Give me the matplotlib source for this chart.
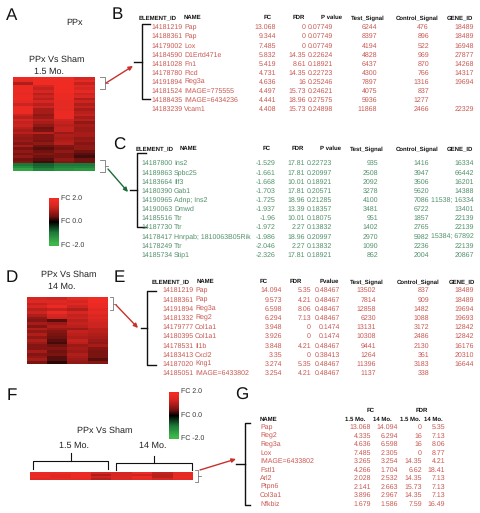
import matplotlib
matplotlib.use("Agg")
import matplotlib.pyplot as plt
from matplotlib.colors import LinearSegmentedColormap
import numpy as np

plt.rcParams['font.family'] = ['Liberation Sans', 'DejaVu Sans']
plt.rcParams['text.hinting'] = 'no_hinting'
plt.rcParams['text.hinting_factor'] = 1

W, H = 481, 513
FS = 4.7
FSB = 4.5

# ---------- table data ----------
b_headers = ["ELEMENT_ID", "NAME", "FC", "FDR", "P value", "Test_Signal", "Control_Signal", "GENE_ID"]
b_ids = ["14181219","14188361","14179002","14184590","14181028","14178780","14191894","14181524","14188435","14183239"]
b_names = ["Pap","Pap","Lox","D1Ertd471e","Fn1","Ftcd","Reg3a","IMAGE=775555","IMAGE=6434236","Vcam1"]
b_fc = ["13.068","9.344","7.485","5.832","5.419","4.731","4.636","4.497","4.441","4.408"]
b_fdr = ["0","0","0","14.35","8.61","14.35","16","15.73","18.96","15.73"]
b_p = ["0.07749","0.07749","0.07749","0.22624","0.18921","0.22723","0.25246","0.24621","0.27575","0.24898"]
b_test = ["6244","8397","4194","4828","6437","4300","7897","4075","5936","11868"]
b_ctrl = ["476","896","522","969","870","766","1316","837","1277","2466"]
b_gene = ["18489","18489","16948","27877","14268","14317","19694","","","22329"]

c_headers = b_headers
c_ids = ["14187800","14189863","14183664","14180390","14190965","14190063","14185516","14187730","14178417","14178249","14185734"]
c_names = ["Ins2","Spbc25","Ilf3","Gab1","Adnp; Ins2","Dmwd","Ttr","Ttr","Hnrpab; 1810063B05Rik","Ttr","Stip1"]
c_fc = ["-1.529","-1.661","-1.668","-1.703","-1.725","-1.937","-1.96","-1.972","-1.986","-2.046","-2.326"]
c_fdr = ["17.81","17.81","10.01","17.81","18.96","13.39","10.01","2.27","18.96","2.27","17.81"]
c_p = ["0.22723","0.20997","0.18921","0.20571","0.21285","0.18357","0.18075","0.13832","0.20997","0.13832","0.18921"]
c_test = ["935","2508","2092","3278","4100","3481","951","1402","2970","1090","862"]
c_ctrl = ["1416","3947","3506","5620","7086","6722","1857","2765","5982","2236","2004"]
c_gene = ["16334","66442","16201","14388","11538; 16334","13401","22139","22139","15384; 67892","22139","20867"]

e_headers = ["ELEMENT_ID", "NAME", "FC", "FDR", "Pvalue", "Test_Signal", "Control_Signal", "GENE_ID"]
e_ids = ["14181219","14188361","14191894","14181332","14179777","14180395","14178531","14183413","14187020","14185051"]
e_names = ["Pap","Pap","Reg3a","Reg2","Col1a1","Col1a1","Il1b","Cxcl2","Kng1","IMAGE=6433802"]
e_fc = ["14.094","9.573","6.598","6.294","3.948","3.926","3.848","3.35","3.274","3.254"]
e_fdr = ["5.35","4.21","8.06","7.13","0","0","4.21","0","5.35","4.21"]
e_p = ["0.48467","0.48467","0.48467","0.48467","0.1474","0.1474","0.48467","0.38413","0.48467","0.48467"]
e_test = ["13502","7814","12858","6230","13131","10308","9441","1264","11396","1137"]
e_ctrl = ["837","909","1482","1088","3172","2486","2130","361","3183","338"]
e_gene = ["18489","18489","19694","19693","12842","12842","16176","20310","16644",""]

g_names = ["Pap","Reg2","Reg3a","Lox","IMAGE=6433802","Fstl1","Arl2","Ptpn6","Col3a1","Nfkbiz"]
g_fc1 = ["13.068","4.335","4.636","7.485","3.265","4.266","2.028","2.141","3.896","1.679"]
g_fc2 = ["14.094","6.294","6.598","2.305","3.254","1.704","2.532","2.663","2.967","1.586"]
g_fdr1 = ["0","16","16","0","14.35","6.62","14.35","15.73","14.35","7.59"]
g_fdr2 = ["5.35","7.13","8.06","8.77","4.21","18.41","7.13","7.13","7.13","16.49"]

# ---------- heatmap values (fold change, log scale, clipped at +/-2) ----------
heat_a = [
 [1.9,2.0,2.0,1.5],[1.8,2.0,2.0,1.8],[1.1,2.0,2.0,1.3],[1.9,1.5,2.0,1.7],[1.9,1.3,2.0,1.5],
 [1.9,1.5,2.0,1.8],[1.8,1.2,1.9,1.4],[1.9,1.4,1.9,1.6],[1.9,1.2,1.9,1.1],[1.8,1.5,1.8,1.4],
 [1.4,1.2,1.8,1.1],[1.9,1.4,1.8,1.3],[1.9,1.0,1.8,1.0],[1.9,1.0,1.9,1.2],[1.4,0.8,1.9,1.3],
 [1.2,0.9,1.9,1.0],[1.5,1.2,1.4,1.2],[1.3,1.0,1.3,0.8],[1.4,0.8,1.2,1.0],[1.2,0.5,1.3,0.9],
 [1.0,0.6,1.3,0.9],[1.2,1.2,0.9,1.0],[0.9,0.7,1.1,1.0],[0.8,0.7,1.0,0.8],[0.9,0.6,1.1,0.9],
 [0.7,0.8,1.2,0.7],[1.0,0.5,0.7,0.8],[0.6,0.4,0.6,0.8],[0.8,0.5,0.8,0.5],[0.6,0.7,0.6,0.4],
 [0.8,0.5,0.6,0.3],[0.5,0.4,0.8,0.5],[0.7,0.3,0.7,0.5],
 [-1.0,-0.8,-1.0,-1.0],[-1.3,-0.9,-1.2,-1.2],[-1.7,-1.2,-1.4,-1.5],
]
heat_d = [
 [1.5,1.4,1.8,2.0],[1.7,1.7,1.5,2.0],[1.3,1.5,1.7,1.9],[1.5,1.9,1.4,1.9],[1.2,1.3,1.1,1.7],
 [1.4,1.9,1.5,1.8],[1.1,1.5,1.3,1.6],[0.8,1.4,1.4,1.7],[0.7,0.4,1.2,1.5],[1.0,0.9,1.3,1.4],
 [0.7,1.1,1.2,1.4],[1.1,0.9,0.9,1.2],[0.8,0.7,1.3,1.2],[1.1,0.6,1.2,1.1],[0.8,0.5,1.1,1.0],
 [1.1,0.4,1.3,0.9],[0.9,0.3,1.2,0.8],[0.7,0.5,0.9,1.0],[0.7,0.7,1.0,0.7],[1.0,0.5,0.9,0.6],
 [0.7,0.6,1.1,0.6],[0.8,0.4,1.0,0.6],[1.0,0.4,0.9,0.4],[0.6,0.2,0.8,0.7],
]
heat_f = [
 [1.9,1.9,1.9,1.5,1.5,1.9,1.3,1.8],
 [1.8,1.7,1.9,1.1,1.5,1.4,1.2,1.8],
 [1.9,1.7,1.9,1.4,1.6,1.9,1.2,1.9],
 [1.7,1.8,1.8,1.2,1.6,1.8,1.5,1.8],
]
cbar_levels = [2.0, 1.5, 1.0, 0.5, 0.0, -0.5, -1.0, -1.5, -2.0]

fc_cmap = LinearSegmentedColormap.from_list("fc", [
    (0, "#3fb54a"), (0.25, "#1c7a3a"), (0.5, "#000000"), (0.625, "#6e1210"),
    (0.75, "#a61c19"), (0.875, "#d62622"), (1, "#ef2b24")])

fig = plt.figure(figsize=(W / 100, H / 100), dpi=100, facecolor="white")
bg = fig.add_axes([0, 0, 1, 1])
bg.set_xlim(0, W); bg.set_ylim(H, 0); bg.axis("off")

def T(x, y, s, **kw):
    # y is the visual centre of the digits: place on a common baseline
    fs = kw.get("fontsize", FS)
    bg.text(x, y + 0.36 * fs * 100 / 72, s, va="baseline", **kw)

def heat(x0, x1, y0, y1, vals):
    ax = fig.add_axes([x0 / W, 1 - y1 / H, (x1 - x0) / W, (y1 - y0) / H])
    ax.imshow(np.array(vals, dtype=float), cmap=fc_cmap, vmin=-2, vmax=2, aspect="auto", interpolation="nearest")
    ax.axis("off")

def cbar(x0, x1, y0, y1, lx, ly):
    ax = fig.add_axes([x0 / W, 1 - y1 / H, (x1 - x0) / W, (y1 - y0) / H])
    ax.imshow(np.array(cbar_levels).reshape(-1, 1), cmap=fc_cmap, vmin=-2, vmax=2, aspect="auto", interpolation="bilinear")
    ax.axis("off")
    for t, y in zip(["FC 2.0", "FC 0.0", "FC -2.0"], ly):
        T(lx, y, t, fontsize=FS, color="#333333", ha="left")

heat(13, 95, 77, 171, heat_a)
heat(27, 108, 297, 364, heat_d)
heat(30, 193, 472, 480, heat_f)
cbar(49, 59, 198, 246, 61, [198, 221, 245])
cbar(169, 179, 392, 439, 181, [391, 415, 438])

for s, x, y in [("A", 6, 14), ("B", 112, 13), ("C", 113, 144), ("D", 6, 276), ("E", 114, 276), ("F", 7, 394), ("G", 235, 394)]:
    T(x, y, s, fontsize=12, color="#111111", ha="left")

for x, y, s in [(75, 22, "PPx"), (57, 59, "PPx Vs Sham"), (49, 71, "1.5 Mo."), (69, 274, "PPx Vs Sham"),
                (62, 286, "14 Mo."), (105, 430, "PPx Vs Sham"), (74, 445, "1.5 Mo."), (153, 445, "14 Mo.")]:
    T(x, y, s, fontsize=6.5, color="#222222", ha="center")

RED = "#c8564f"
GREEN = "#4f8f68"

def table(head, head_x, head_y, rows_y, color, idx, nx, rx, cols):
    for i, (h, x) in enumerate(zip(head, head_x)):
        T(x, head_y, h, fontsize=FSB, fontweight="bold", color="#111111", ha="left" if i < 2 else "center")
    for k, y in enumerate(rows_y):
        T(idx, y, cols[0][k], fontsize=FS, color=color, ha="right")
        T(nx, y, cols[1][k], fontsize=FS, color=color, ha="left")
        for col, x in zip(cols[2:], rx):
            T(x, y, col[k], fontsize=FS, color=color, ha="right")

table(b_headers, [139, 184, 268, 299, 332, 368, 417, 460], 17, [27 + 9.05 * i for i in range(10)], RED, 183, 184,
      [276, 306, 333, 377, 429, 474], [b_ids, b_names, b_fc, b_fdr, b_p, b_test, b_ctrl, b_gene])
table(c_headers, [136, 180, 267, 298, 331, 367, 417, 460], 148, [163 + 9.15 * i for i in range(11)], GREEN, 173, 174,
      [276, 305, 332, 378, 429, 474], [c_ids, c_names, c_fc, c_fdr, c_p, c_test, c_ctrl, c_gene])
table(e_headers, [152, 197, 264, 296, 329, 367, 418, 462], 281, [290 + 9.2 * i for i in range(10)], RED, 194, 195,
      [282, 311, 340, 376, 429, 474], [e_ids, e_names, e_fc, e_fdr, e_p, e_test, e_ctrl, e_gene])

# panel G
T(371, 410, "FC", fontsize=FSB, fontweight="bold", color="#111111", ha="center")
T(422, 410, "FDR", fontsize=FSB, fontweight="bold", color="#111111", ha="center")
T(260, 419, "NAME", fontsize=FSB, fontweight="bold", color="#111111", ha="left")
for x, s in [(355, "1.5 Mo."), (382, "14 Mo."), (410, "1.5 Mo."), (433, "14 Mo.")]:
    T(x, 419, s, fontsize=FSB, fontweight="bold", color="#111111", ha="center")
for k, name in enumerate(g_names):
    y = 427 + 8.5 * k
    T(260, y, name, fontsize=FS, color=RED, ha="left")
    for col, x in zip([g_fc1, g_fc2, g_fdr1, g_fdr2], [371, 398, 422, 445]):
        T(x, y, col[k], fontsize=FS, color=RED, ha="right")

def bracket(x, y0, y1, xtip, xmid, lw=1.0, color="#111111"):
    bg.plot([xtip, x, x, xtip], [y0, y0, y1, y1], color=color, lw=lw, solid_joinstyle="round")
    bg.plot([xmid, x], [(y0 + y1) / 2] * 2, color=color, lw=lw)

bracket(142, 24, 99, 150, 134)
bracket(137, 153, 227, 146, 130)
bracket(147, 291, 365, 156, 141)
bracket(245, 423, 505, 250, 236)

bracket(105, 77, 89, 100, 108, lw=0.6, color="#777777")
bracket(105, 160, 172, 100, 108, lw=0.6, color="#777777")
bracket(113, 297, 310, 110, 116, lw=0.6, color="#777777")
bracket(198, 470, 482, 195, 201, lw=0.6, color="#777777")

for x0, x1, ytop, ybot, xm, ypk in [(33, 108, 461, 469, 71, 453), (116, 192, 463, 470, 154, 456)]:
    bg.plot([x0, x0, x1, x1], [ybot, ytop, ytop, ybot], color="#111111", lw=0.8)
    bg.plot([xm, xm], [ytop, ypk], color="#111111", lw=0.8)

def arrow(x0, y0, x1, y1, color):
    bg.annotate("", xy=(x1, y1), xytext=(x0, y0),
                arrowprops=dict(arrowstyle="-|>,head_length=0.25,head_width=0.12", color=color, lw=1.0,
                                shrinkA=0, shrinkB=0))

arrow(106, 83, 133, 66, "#c9302b")
arrow(108, 169, 128, 192, "#1d6b3a")
arrow(116, 305, 138, 328, "#c9302b")
arrow(200, 470, 236, 459, "#c9302b")

fig.savefig("out.png", dpi=100)
